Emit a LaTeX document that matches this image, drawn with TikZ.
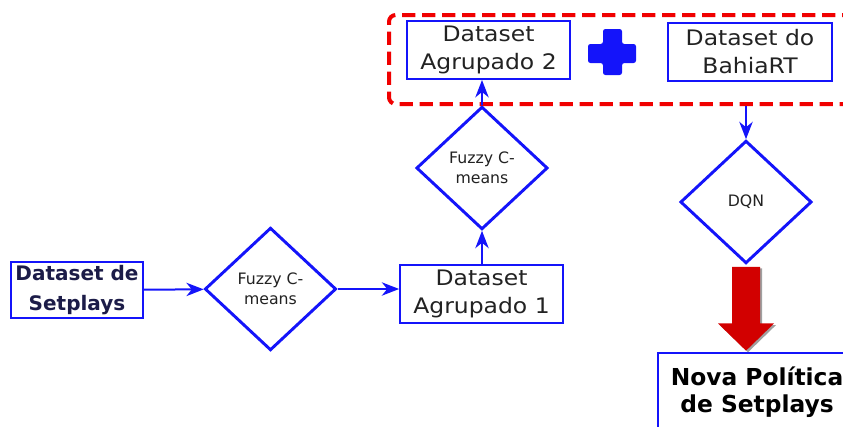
\documentclass[tikz,border=0pt]{standalone}
\usepackage{fontspec}
\setmainfont{DejaVu Sans}
\newfontfamily\widefont{DejaVu Sans}[FakeStretch=1.1]
\usetikzlibrary{shapes.geometric,arrows.meta,shadows}

\definecolor{lineblue}{RGB}{20,20,250}
\definecolor{navytext}{RGB}{28,28,72}
\definecolor{bodytext}{RGB}{34,34,34}
\definecolor{groupred}{RGB}{240,0,0}
\definecolor{bigred}{RGB}{210,0,0}

\tikzset{
  databox/.style={draw=lineblue, line width=1.5pt, fill=white, align=center,
    inner sep=0pt, text=bodytext, font=\widefont\fontsize{16}{21}\selectfont,
    minimum width=122pt, minimum height=43.5pt},
  boldbox/.style={draw=lineblue, line width=1.5pt, fill=white, align=center,
    inner sep=0pt, font=\bfseries\fontsize{15}{22}\selectfont},
  procdiamond/.style={diamond, draw=lineblue, line width=2.2pt, fill=white,
    inner sep=0pt, align=center, text=bodytext,
    font=\fontsize{11.8}{15}\selectfont,
    minimum width=98.5pt, minimum height=92pt},
  flow/.style={draw=lineblue, line width=1.5pt,
    -{Stealth[length=13pt,width=10pt,inset=4pt]}},
  groupframe/.style={draw=groupred, line width=3pt, rounded corners=5pt,
    dash pattern=on 10pt off 5pt}
}

\begin{document}
\begin{tikzpicture}[x=0.75pt, y=-0.75pt]
\useasboundingbox (0,0) rectangle (843,426);
\clip (0,0) rectangle (843,426);

% grouped datasets frame
\node[groupframe, minimum width=369.75pt, minimum height=66.75pt, anchor=north west]
  (grp) at (387,13) {};

% first clustering stage
\node[boldbox, text=navytext, minimum width=99pt, minimum height=42pt]
  (ds) at (77,290) {Dataset de\\Setplays};
\node[procdiamond] (fz1) at (270.5,289) {Fuzzy C-\\means};
\node[databox] (ag1) at (481.5,294) {Dataset\\Agrupado 1};

% second clustering stage
\node[procdiamond] (fz2) at (482,168) {Fuzzy C-\\means};
\node[databox] (ag2) at (488.5,50) {Dataset\\Agrupado 2};
\node[databox, minimum width=123pt] (bahia) at (750,52) {Dataset do\\BahiaRT};

% plus sign between the datasets
\fill[lineblue, rounded corners=1.8pt]
  (603,29) -- (622,29) -- (622,44) -- (636,44) -- (636,63) -- (622,63)
  -- (622,75) -- (603,75) -- (603,63) -- (588,63) -- (588,44) -- (603,44) -- cycle;

% learning stage
\node[procdiamond] (dqn) at (746,202) {DQN};
\node[boldbox, text=black, minimum width=148.5pt, minimum height=58.5pt,
      font=\bfseries\fontsize{17.5}{20}\selectfont, anchor=north]
  (nova) at (757,352) {Nova Política\\de Setplays};

% connectors
\draw[flow] (ds) -- (fz1);
\draw[flow] (fz1) -- (ag1.west |- fz1.east);
\draw[flow] (ag1.north -| fz2.south) -- (fz2.south);
\draw[flow] (fz2.north) -- (fz2.north |- ag2.south);
\draw[flow] (grp.south -| dqn.north) -- (dqn.north);

% big output arrow
\fill[bigred, drop shadow={opacity=0.75, shadow xshift=1.5pt, shadow yshift=-1.2pt}]
  ([xshift=-10.5pt,yshift=-1.5pt]dqn.south) -- ([xshift=10.5pt,yshift=-1.5pt]dqn.south)
  -- ([xshift=10.5pt,yshift=-44pt]dqn.south) -- ([xshift=21pt,yshift=-44pt]dqn.south)
  -- ([yshift=1pt]nova.north -| dqn.south) -- ([xshift=-21pt,yshift=-44pt]dqn.south)
  -- ([xshift=-10.5pt,yshift=-44pt]dqn.south) -- cycle;
\end{tikzpicture}
\end{document}
